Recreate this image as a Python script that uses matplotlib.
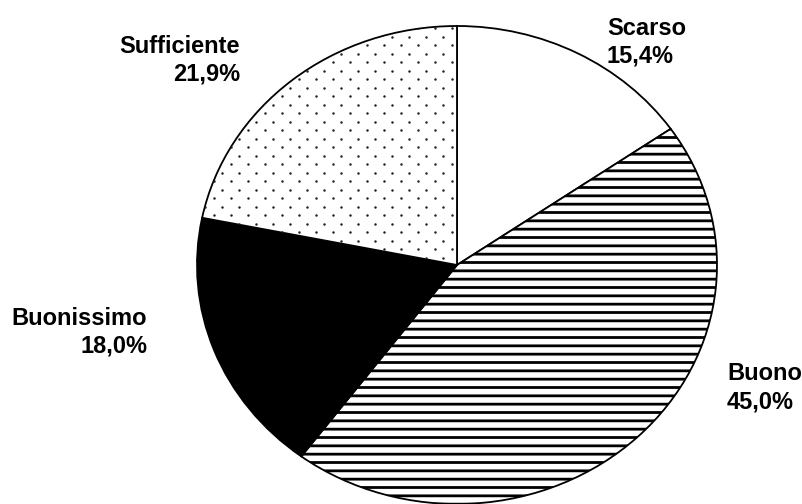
import numpy as np
import matplotlib
matplotlib.use("Agg")
import matplotlib.pyplot as plt

# Survey answers, clockwise from 12 o'clock
categories = ["Scarso", "Buono", "Buonissimo", "Sufficiente"]
shares = [15.4, 45.0, 18.0, 21.9]

W, H = 803, 504
plt.rcParams["hatch.linewidth"] = 2.0
plt.rcParams["font.family"] = ["Liberation Sans", "DejaVu Sans"]

fig = plt.figure(figsize=(W / 100, H / 100), dpi=100)
# pie box: 520 px wide, 478 px tall -> slightly flattened ellipse
ax = fig.add_axes([197 / W, 0, 520 / W, 478 / H])

wedges, _ = ax.pie(
    shares,
    colors=["white", "white", "black", "white"],
    startangle=90,
    counterclock=False,
    wedgeprops=dict(edgecolor="black", linewidth=1.3),
)
wedges[1].set_hatch("--")

ax.set_aspect("auto")
ax.set_xlim(-1, 1)
ax.set_ylim(-1, 1)
ax.axis("off")

# dotted fill for the "Sufficiente" slice: staggered rows of small dots
rx, ry = 260.0, 239.0
col_step, row_step = 17.0, 8.5
row_px = np.arange(-ry, ry + row_step, row_step)
xs, ys = [], []
for i, yp in enumerate(row_px):
    off = 0.0 if i % 2 == 0 else col_step / 2
    cols = np.arange(-rx + off, rx + col_step, col_step)
    xs.extend(cols / rx)
    ys.extend(np.full(cols.shape, yp / ry))
dots = ax.scatter(xs, ys, s=3.2, color="#222222", linewidths=0, zorder=3)
dots.set_clip_path(wedges[3])


def fig_xy(px, py):
    return px / W, 1 - py / H


# label anchors in pixels: (x, name baseline, alignment)
label_pos = {
    "Scarso": (607, 35, "left"),
    "Buono": (727, 380, "left"),
    "Buonissimo": (147, 325, "right"),
    "Sufficiente": (240, 53, "right"),
}
line_gap = 28
for name, val in zip(categories, shares):
    px, py, ha = label_pos[name]
    pct = f"{val:.1f}%".replace(".", ",")
    fig.text(*fig_xy(px, py), name, ha=ha, va="baseline",
             fontsize=17, fontweight="bold")
    fig.text(*fig_xy(px, py + line_gap), pct, ha=ha, va="baseline",
             fontsize=17, fontweight="bold")

fig.savefig("out.png", dpi=100, facecolor="white")
